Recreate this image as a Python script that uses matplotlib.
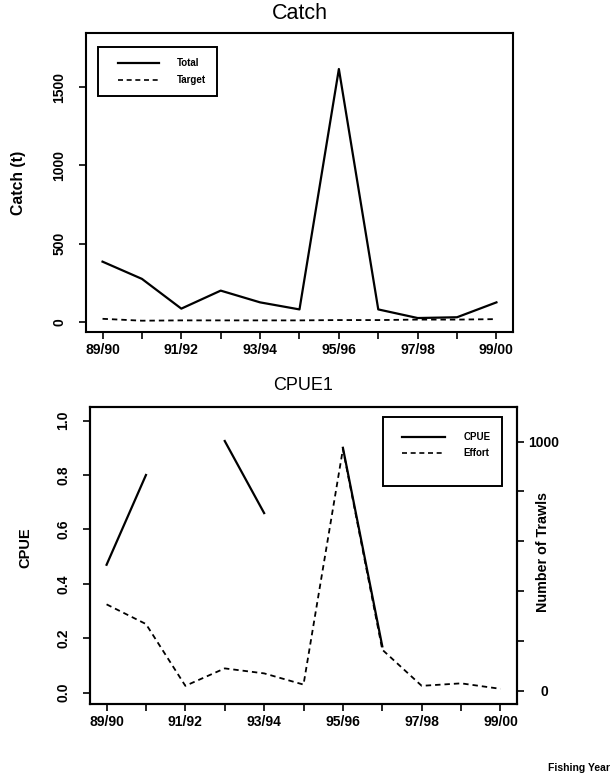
import numpy as np
import matplotlib
matplotlib.use("Agg")
import matplotlib.pyplot as plt
from matplotlib.patches import Rectangle

plt.rcParams['font.family'] = ['Liberation Sans', 'DejaVu Sans']

# Fishing years on the x axis
years = ["89/90", "90/91", "91/92", "92/93", "93/94", "94/95",
         "95/96", "96/97", "97/98", "98/99", "99/00"]
year_labels = ["89/90", "", "91/92", "", "93/94", "",
               "95/96", "", "97/98", "", "99/00"]

# Catch (t)
catch_total = [385, 275, 85, 200, 125, 80, 1615, 80, 25, 30, 125]
catch_target = [20, 8, 10, 10, 10, 10, 12, 12, 15, 15, 18]

# CPUE (gaps where no estimate) and effort (number of trawls)
cpue = [0.47, 0.80, np.nan, 0.925, 0.66, np.nan, 0.90, 0.17, np.nan, np.nan, np.nan]
effort = [347, 268, 20, 90, 70, 25, 970, 165, 20, 30, 8]

catch_ticks = [0, 500, 1000, 1500]
cpue_ticks = [0.0, 0.2, 0.4, 0.6, 0.8, 1.0]
effort_ticks = [0, 200, 400, 600, 800, 1000]
effort_tick_labels = ["0", "", "", "", "", "1000"]

LW = 1.6
DASH = (0, (3, 2.2))
TICK_FS = 10
x = np.arange(len(years))

fig = plt.figure(figsize=(6.12, 7.8), dpi=100)


def style_axes(ax):
    for s in ax.spines.values():
        s.set_linewidth(1.5)
    ax.tick_params(direction='out', length=5, width=1.2, labelsize=TICK_FS)
    ax.tick_params(axis='x', pad=3)
    ax.tick_params(axis='y', pad=9)
    ax.set_xlim(-0.42, 10.42)
    ax.set_xticks(x)
    ax.set_xticklabels(year_labels, fontweight='bold')


def legend_box(ax, box, rows, sample_x, text_x, fs=7):
    x0, y0, x1, y1 = box
    ax.add_patch(Rectangle((x0, y0), x1 - x0, y1 - y0, transform=ax.transAxes,
                           fill=False, lw=1.4, ec='black', zorder=10,
                           clip_on=False))
    for (label, ls, yy) in rows:
        ax.plot(sample_x, [yy, yy], transform=ax.transAxes, color='black',
                lw=LW if ls == '-' else 1.2, ls=ls, zorder=11, clip_on=False)
        ax.text(text_x, yy, label, transform=ax.transAxes, fontsize=fs,
                fontweight='bold', va='center', ha='left', zorder=11)


# ---- Catch panel ----
ax1 = fig.add_axes([0.1405, 0.5744, 0.6977, 0.3833])
style_axes(ax1)
ax1.plot(x, catch_total, color='black', lw=LW, ls='-')
ax1.plot(x, catch_target, color='black', lw=1.3, ls=DASH)
ax1.set_ylim(-64, 1845)
ax1.set_yticks(catch_ticks)
ax1.set_yticklabels([str(t) for t in catch_ticks], rotation=90,
                    va='center', fontweight='bold')
ax1.set_ylabel("Catch (t)", fontsize=11.3, fontweight='bold',
               va='center', ha='center')
ax1.yaxis.set_label_coords(-0.159, 0.5)
ax1.set_title("Catch", fontsize=15.5, pad=10)
legend_box(ax1, (0.029, 0.79, 0.306, 0.954),
           [("Total", '-', 0.899), ("Target", DASH, 0.843)],
           [0.075, 0.171], 0.213)

# ---- CPUE panel with effort on a second axis ----
ax2 = fig.add_axes([0.1471, 0.0974, 0.6977, 0.3808])
style_axes(ax2)
ax2.plot(x, cpue, color='black', lw=LW, ls='-')
ax2.set_ylim(-0.042, 1.05)
ax2.set_yticks(cpue_ticks)
ax2.set_yticklabels([f"{t:.1f}" for t in cpue_ticks], rotation=90,
                    va='center', fontweight='bold')
ax2.set_ylabel("CPUE", fontsize=10.5, fontweight='bold', va='center', ha='center')
ax2.yaxis.set_label_coords(-0.152, 0.525)
ax2.set_title("CPUE1", fontsize=13, pad=12)

ax3 = ax2.twinx()
ax3.plot(x, effort, color='black', lw=1.3, ls=DASH)
ax3.set_ylim(-53, 1139)
ax3.set_yticks(effort_ticks)
ax3.set_yticklabels(effort_tick_labels, fontweight='bold', ha='center')
ax3.tick_params(axis='y', direction='out', length=5, width=1.2,
                labelsize=TICK_FS, pad=14.5)
for s in ax3.spines.values():
    s.set_linewidth(1.5)
ax3.set_ylabel("Number of Trawls", fontsize=10.3, fontweight='bold',
               rotation=90, va='center', ha='center')
ax3.yaxis.set_label_coords(1.061, 0.512)
legend_box(ax3, (0.687, 0.734, 0.964, 0.967),
           [("CPUE", '-', 0.898), ("Effort", DASH, 0.846)],
           [0.73, 0.831], 0.874)

fig.text(0.997, 1 - 768 / 780, "Fishing Year", ha='right', va='center',
         fontsize=7.5, fontweight='bold')

fig.savefig("out.png", dpi=100)
